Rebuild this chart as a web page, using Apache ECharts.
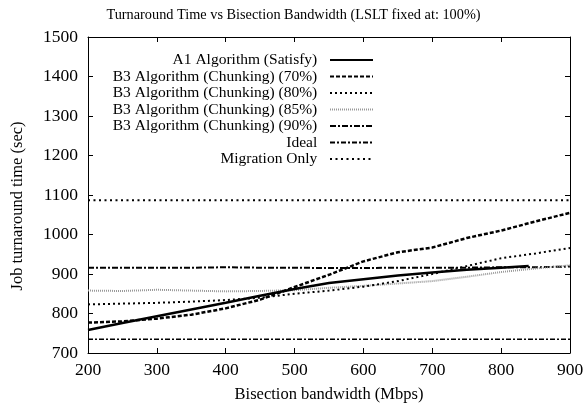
<!DOCTYPE html>
<html>
<head>
<meta charset="utf-8">
<script src="https://cdn.jsdelivr.net/npm/echarts@6/dist/echarts.min.js"></script>
<style>html,body{margin:0;padding:0;background:#fff}#c{width:587px;height:408px}</style>
</head>
<body>
<div id="c"></div>
<script>
var titleText = 'Turnaround Time vs Bisection Bandwidth (LSLT fixed at: 100%)';
var xName = 'Bisection bandwidth (Mbps)';
var yName = 'Job turnaround time (sec)';
var seriesNames = ['A1 Algorithm (Satisfy)', 'B3 Algorithm (Chunking) (70%)', 'B3 Algorithm (Chunking) (80%)', 'B3 Algorithm (Chunking) (85%)', 'B3 Algorithm (Chunking) (90%)', 'Ideal', 'Migration Only'];
var bw = [200, 250, 300, 350, 400, 450, 500, 550, 600, 650, 700, 750, 800, 850, 900];
var bwA1 = [200, 250, 300, 350, 400, 450, 500, 550, 600, 650, 700, 750, 800, 840];
var a1 = [758, 776, 793, 810, 827, 845, 862, 877, 887, 896, 904, 911, 916, 920];
var b70 = [777, 780, 787, 797, 813, 835, 867, 898, 932, 955, 967, 991, 1010, 1033, 1055];
var b80 = [823, 825, 827, 830, 834, 840, 850, 858, 868, 882, 900, 920, 940, 952, 966];
var b85 = [858, 857, 860, 858, 856, 857, 859, 865, 870, 876, 882, 893, 905, 914, 922];
var b90 = [916, 916, 916, 916, 917, 916, 916, 915, 915, 916, 916, 916, 917, 917, 919];
var ideal = [735, 735, 735, 735, 735, 735, 735, 735, 735, 735, 735, 735, 735, 735, 735];
var migration = [1087, 1087, 1087, 1087, 1087, 1087, 1087, 1087, 1087, 1087, 1087, 1087, 1087, 1087, 1087];
var xTicks = [200, 300, 400, 500, 600, 700, 800, 900];
var yTicks = [700, 800, 900, 1000, 1100, 1200, 1300, 1400, 1500];

function pairs(xs, ys) { return xs.map(function (x, i) { return [x, ys[i]]; }); }
var font = 'Liberation Serif, Times New Roman, serif';
var styles = [
  {color: '#000', width: 2.5, type: 'solid'},
  {color: '#000', width: 2.5, type: [4, 2]},
  {color: '#000', width: 2, type: [2, 3]},
  {color: '#999', width: 2, type: [1, 1]},
  {color: '#000', width: 2, type: [6, 2, 2, 2]},
  {color: '#000', width: 1.6, type: [5, 2, 2, 2]},
  {color: '#000', width: 2, type: [2, 3.5]}
];
var dataSets = [pairs(bwA1, a1), pairs(bw, b70), pairs(bw, b80), pairs(bw, b85), pairs(bw, b90), pairs(bw, ideal), pairs(bw, migration)];
var series = seriesNames.map(function (n, i) {
  return {
    name: n, type: 'line', data: dataSets[i], symbol: 'none', animation: false,
    lineStyle: styles[i], itemStyle: {color: styles[i].color}, z: 10 - i
  };
});
var axisCommon = {
  axisLine: {show: true, lineStyle: {color: '#000', width: 1}},
  axisTick: {show: true, inside: true, length: 5, lineStyle: {color: '#000'}},
  splitLine: {show: false}
};
var chart = echarts.init(document.getElementById('c'), null, {renderer: 'canvas'});
chart.setOption({
  backgroundColor: '#fff',
  animation: false,
  title: {text: titleText, left: 'center', top: 3, textStyle: {fontFamily: font, fontSize: 14.3, fontWeight: 'normal', color: '#000'}},
  grid: {left: 88, right: 17, top: 37, bottom: 55},
  legend: {
    orient: 'vertical', right: 208, top: 47, align: 'right', itemWidth: 43, itemHeight: 12, itemGap: 0.5,
    data: seriesNames,
    itemStyle: {opacity: 0},
    formatter: function (n) { return n + '  '; },
    textStyle: {fontFamily: font, fontSize: 15.5, color: '#000'}
  },
  xAxis: [
    Object.assign({type: 'value', min: 200, max: 900, interval: 100, position: 'bottom',
      name: xName, nameLocation: 'middle', nameGap: 33, nameTextStyle: {fontFamily: font, fontSize: 16.5, color: '#000'},
      axisLabel: {fontFamily: font, fontSize: 17.5, color: '#000', margin: 8,
        formatter: function (v) { return xTicks.indexOf(v) >= 0 ? String(v) : ''; }}}, axisCommon),
    Object.assign({type: 'value', min: 200, max: 900, interval: 100, position: 'top', axisLabel: {show: false}}, axisCommon)
  ],
  yAxis: [
    Object.assign({type: 'value', min: 700, max: 1500, interval: 100, position: 'left',
      name: yName, nameLocation: 'middle', nameGap: 62, nameTextStyle: {fontFamily: font, fontSize: 16.5, color: '#000', padding: [0, 22, 0, 0]},
      axisLabel: {fontFamily: font, fontSize: 17.5, color: '#000', margin: 10,
        formatter: function (v) { return yTicks.indexOf(v) >= 0 ? String(v) : ''; }}}, axisCommon),
    Object.assign({type: 'value', min: 700, max: 1500, interval: 100, position: 'right', axisLabel: {show: false}}, axisCommon)
  ],
  series: series
});
</script>
</body>
</html>
